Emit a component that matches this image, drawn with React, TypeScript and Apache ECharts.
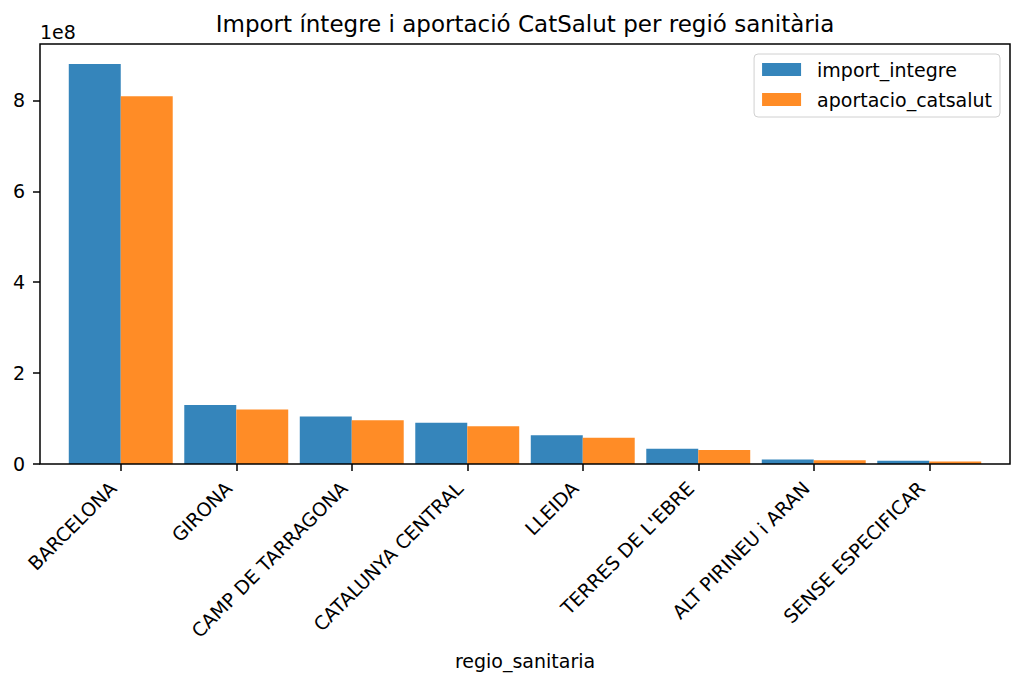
import React, { useEffect, useRef } from "react";
import * as echarts from "echarts";

const categories = [
  "BARCELONA",
  "GIRONA",
  "CAMP DE TARRAGONA",
  "CATALUNYA CENTRAL",
  "LLEIDA",
  "TERRES DE L'EBRE",
  "ALT PIRINEU i ARAN",
  "SENSE ESPECIFICAR",
];
const importIntegre = [880e6, 130e6, 104.5e6, 90.5e6, 63.5e6, 33.5e6, 10e6, 7e6];
const aportacioCatsalut = [809e6, 120e6, 96.5e6, 83e6, 57.5e6, 31e6, 8.5e6, 5.5e6];
const yTicks = [0, 2e8, 4e8, 6e8, 8e8];
const yMax = 9.24e8;

const FONT = "DejaVu Sans";

export default function App() {
  const ref = useRef<HTMLDivElement>(null);
  useEffect(() => {
    if (!ref.current) return;
    const chart = echarts.init(ref.current, null, { renderer: "svg" });
    chart.setOption({
      animation: false,
      textStyle: { fontFamily: FONT, color: "#000" },
      grid: { left: 63, right: 37, top: 44, bottom: 221, containLabel: false },
      legend: {
        orient: "vertical",
        right: 24,
        top: 54,
        itemWidth: 39,
        itemHeight: 13,
        itemGap: 11,
        icon: "rect",
        padding: [6, 8, 8, 8],
        backgroundColor: "#fff",
        borderColor: "#d0d0d0",
        borderWidth: 1,
        borderRadius: 4,
        textStyle: { fontSize: 19, fontFamily: FONT, color: "#000", padding: [0, 0, 0, 11] },
        data: ["import_integre", "aportacio_catsalut"],
      },
      xAxis: {
        type: "category",
        data: categories,
        name: "regio_sanitaria",
        nameLocation: "middle",
        nameGap: 187,
        nameTextStyle: { fontSize: 19, fontFamily: FONT, color: "#000" },
        axisLine: { show: false },
        axisTick: { show: true, alignWithLabel: true, length: 7, lineStyle: { color: "#000", width: 1.5 } },
        axisLabel: {
          rotate: 45,
          interval: 0,
          margin: 13,
          padding: [0, 11, 0, 0],
          fontSize: 19,
          fontFamily: FONT,
          color: "#000",
        },
        splitLine: { show: false },
      },
      yAxis: {
        type: "value",
        min: 0,
        max: yMax,
        offset: 23,
        axisLine: { show: false },
        axisTick: {
          show: true,
          length: 7,
          customValues: yTicks,
          lineStyle: { color: "#000", width: 1.5 },
        },
        axisLabel: {
          customValues: yTicks,
          margin: 15,
          fontSize: 19,
          fontFamily: FONT,
          color: "#000",
          formatter: (v: number) => String(Math.round(v / 1e8)),
        },
        splitLine: { show: false },
      },
      series: [
        {
          name: "import_integre",
          type: "bar",
          data: importIntegre,
          itemStyle: { color: "#3585bb" },
          barGap: "0%",
          barCategoryGap: "10%",
        },
        {
          name: "aportacio_catsalut",
          type: "bar",
          data: aportacioCatsalut,
          itemStyle: { color: "#ff8c26" },
          barGap: "0%",
          barCategoryGap: "10%",
        },
      ],
      graphic: [
        {
          type: "rect",
          shape: { x: 40, y: 44, width: 970, height: 420 },
          style: { fill: "none", stroke: "#000", lineWidth: 1.5 },
          silent: true,
          z: 10,
        },
        {
          type: "text",
          x: 525,
          y: 24,
          style: {
            text: "Import íntegre i aportació CatSalut per regió sanitària",
            fontSize: 23,
            fontFamily: FONT,
            fill: "#000",
            textAlign: "center",
            textVerticalAlign: "middle",
          },
        },
        {
          type: "text",
          x: 40,
          y: 32,
          style: {
            text: "1e8",
            fontSize: 19,
            fontFamily: FONT,
            fill: "#000",
            textAlign: "left",
            textVerticalAlign: "middle",
          },
        },
      ],
    });
    return () => chart.dispose();
  }, []);
  return (
    <div
      ref={ref}
      style={{ position: "absolute", left: 0, top: 0, width: 1024, height: 685 }}
    />
  );
}
